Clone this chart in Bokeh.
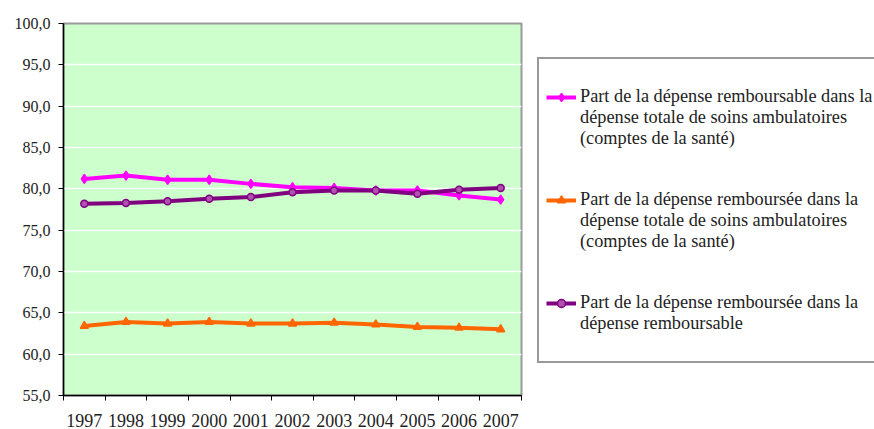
from bokeh.plotting import figure
from bokeh.models import FixedTicker, Legend, LegendItem, Range1d
from bokeh.embed import file_html
from bokeh.resources import INLINE

years = ["1997", "1998", "1999", "2000", "2001", "2002", "2003", "2004", "2005", "2006", "2007"]
remboursable = [81.2, 81.6, 81.1, 81.1, 80.6, 80.2, 80.1, 79.8, 79.8, 79.2, 78.7]
remboursee_totale = [63.4, 63.9, 63.7, 63.9, 63.7, 63.7, 63.8, 63.6, 63.3, 63.2, 63.0]
remboursee_remboursable = [78.2, 78.3, 78.5, 78.8, 79.0, 79.6, 79.8, 79.8, 79.4, 79.9, 80.1]
y_ticks = [55, 60, 65, 70, 75, 80, 85, 90, 95, 100]
labels = [
    ["Part de la dépense remboursable dans la", "dépense totale de soins ambulatoires", "(comptes de la santé)"],
    ["Part de la dépense remboursée dans la", "dépense totale de soins ambulatoires", "(comptes de la santé)"],
    ["Part de la dépense remboursée dans la", "dépense remboursable"],
]

FONT = "Liberation Serif"
xs = [i + 0.5 for i in range(len(years))]

p = figure(frame_width=458, frame_height=372, output_backend="svg", toolbar_location=None,
           min_border_left=63, min_border_right=0, min_border_top=23, min_border_bottom=34,
           x_range=Range1d(0, len(years)), y_range=Range1d(55, 100))

p.background_fill_color = "#CCFFCC"
p.border_fill_color = "white"
p.outline_line_color = "#999999"
p.outline_line_width = 2

p.xgrid.grid_line_color = None
p.ygrid.grid_line_color = "white"
p.ygrid.grid_line_width = 1.5
p.ygrid.ticker = FixedTicker(ticks=y_ticks)

p.xaxis.ticker = FixedTicker(ticks=xs, minor_ticks=list(range(len(years) + 1)))
p.xaxis.major_label_overrides = {x: y for x, y in zip(xs, years)}
p.xaxis.major_tick_line_color = None
p.xaxis.minor_tick_line_color = "black"
p.xaxis.minor_tick_in = 0
p.xaxis.minor_tick_out = 5
p.xaxis.axis_line_color = "black"
p.xaxis.axis_line_width = 1.5
p.xaxis.major_label_standoff = 12
p.xaxis.major_label_text_font = FONT
p.xaxis.major_label_text_font_size = "18px"
p.xaxis.major_label_text_color = "#222222"

p.yaxis.ticker = FixedTicker(ticks=y_ticks)
p.yaxis.major_label_overrides = {v: f"{v:.1f}".replace(".", ",") for v in y_ticks}
p.yaxis.minor_tick_line_color = None
p.yaxis.major_tick_in = 0
p.yaxis.major_tick_out = 5
p.yaxis.major_tick_line_color = "black"
p.yaxis.axis_line_color = "black"
p.yaxis.axis_line_width = 1.5
p.yaxis.major_label_standoff = 8
p.yaxis.major_label_text_font = FONT
p.yaxis.major_label_text_font_size = "16px"
p.yaxis.major_label_text_color = "#222222"

series = [
    (remboursable, "#FF00FF", "diamond", "#FF00FF", 9),
    (remboursee_totale, "#FF6600", "triangle", "#FF6600", 8),
    (remboursee_remboursable, "#800080", "circle", "#B050B0", 7),
]
items = [LegendItem(label=" ", renderers=[])]
for k, ((vals, color, marker, fill, size), lines) in enumerate(zip(series, labels)):
    l = p.line(xs, vals, line_color=color, line_width=4)
    s = p.scatter(xs, vals, marker=marker, size=size, line_color=color, fill_color=fill, line_width=1.5)
    items.append(LegendItem(label=lines[0], renderers=[l, s]))
    for extra in lines[1:]:
        items.append(LegendItem(label=extra, renderers=[]))
    if k < len(series) - 1:
        items.append(LegendItem(label=" ", renderers=[]))
        items.append(LegendItem(label=" ", renderers=[]))
items.append(LegendItem(label=" ", renderers=[]))

legend = Legend(items=items, location=(16, 32), orientation="vertical",
                label_text_font=FONT, label_text_font_size="18.3px", label_text_color="#222222",
                label_height=20, glyph_width=30, glyph_height=20, label_standoff=4, spacing=0,
                padding=7, margin=0,
                border_line_color="#333333", border_line_width=2,
                background_fill_color="white", background_fill_alpha=1.0)
p.add_layout(legend, "right")

open("out.html", "w").write(file_html(p, INLINE))
